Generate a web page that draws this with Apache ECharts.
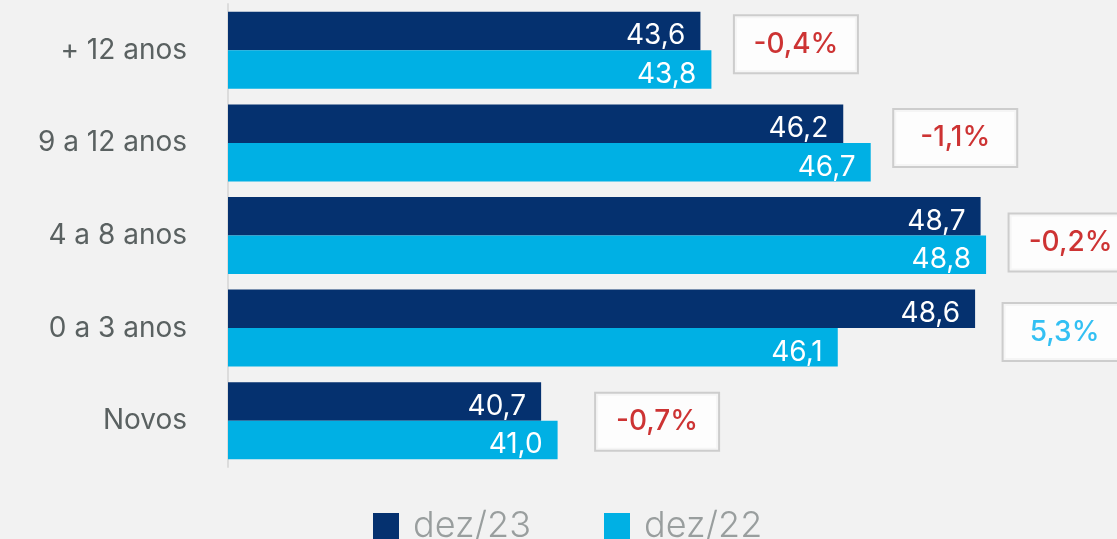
<!DOCTYPE html>
<html>
<head>
<meta charset="utf-8">
<script src="https://cdn.jsdelivr.net/npm/echarts@6/dist/echarts.min.js"></script>
<style>
  html, body { margin: 0; padding: 0; background: #f2f2f2; }
  #chart { width: 1117px; height: 539px; }
</style>
</head>
<body>
<div id="chart"></div>
<script>
const categories = ['+ 12 anos', '9 a 12 anos', '4 a 8 anos', '0 a 3 anos', 'Novos']
const dez23 = [43.6, 46.2, 48.7, 48.6, 40.7]
const dez22 = [43.8, 46.7, 48.8, 46.1, 41.0]
const variation = [-0.4, -1.1, -0.2, 5.3, -0.7]

const fontFamily = 'Inter, "Open Sans", sans-serif'
const darkBlue = '#05316f'
const lightBlue = '#00b0e4'
// pequeno deslocamento das caixas (px), como no slide original
const boxShift = [[0, -6], [0, -5], [0, 7], [5, 4], [15, 1]]

const fmt = v => v.toFixed(1).replace('.', ',')

const barLabel = {
  show: true,
  position: 'insideRight',
  distance: 15,
  offset: [0, 5],
  color: '#ffffff',
  fontSize: 28,
  fontFamily: fontFamily,
  formatter: p => fmt(p.value)
}

// caixas de variação, ancoradas no fim da barra mais longa
const boxData = categories.map((c, i) => ({
  value: [Math.max(dez23[i], dez22[i]), i],
  label: {
    offset: boxShift[i],
    rich: {
      t: {
        width: 84,
        align: 'center',
        fontSize: 28,
        fontWeight: 500,
        fontFamily: fontFamily,
        color: variation[i] < 0 ? '#c00000' : '#00b0f0'
      }
    }
  }
}))

const chart = echarts.init(document.getElementById('chart'))
chart.setOption({
  backgroundColor: '#f2f2f2',
  animation: false,
  grid: {
    left: 228,
    right: 65,
    top: 4,
    bottom: 72
  },
  legend: {
    left: 373,
    top: 508,
    padding: 0,
    itemWidth: 26,
    itemHeight: 26,
    itemGap: 73,
    icon: 'rect',
    data: ['dez/23', 'dez/22'],
    textStyle: {
      fontSize: 36,
      fontWeight: 300,
      fontFamily: fontFamily,
      color: '#999e9e',
      padding: [4, 0, 0, 9]
    }
  },
  xAxis: {
    type: 'value',
    min: 35,
    max: 50,
    show: false
  },
  yAxis: {
    type: 'category',
    inverse: true,
    data: categories,
    axisTick: { show: false },
    axisLine: {
      lineStyle: { color: '#dcdcdc', width: 2 }
    },
    axisLabel: {
      margin: 41,
      fontSize: 28,
      fontFamily: fontFamily,
      color: '#5a6161'
    }
  },
  series: [
    {
      name: 'dez/23',
      type: 'bar',
      barWidth: 38.5,
      barGap: '0%',
      itemStyle: { color: darkBlue },
      label: barLabel,
      data: dez23
    },
    {
      name: 'dez/22',
      type: 'bar',
      barWidth: 38.5,
      barGap: '0%',
      itemStyle: { color: lightBlue },
      label: barLabel,
      data: dez22
    },
    {
      type: 'scatter',
      symbolSize: 1,
      itemStyle: { color: 'transparent' },
      silent: true,
      label: {
        show: true,
        position: 'right',
        distance: 23,
        backgroundColor: '#ffffff',
        borderColor: '#c3c3c3',
        borderWidth: 2,
        padding: [14, 19],
        formatter: p => '{t|' + fmt(variation[p.dataIndex]) + '%}'
      },
      data: boxData
    }
  ]
})
</script>
</body>
</html>
